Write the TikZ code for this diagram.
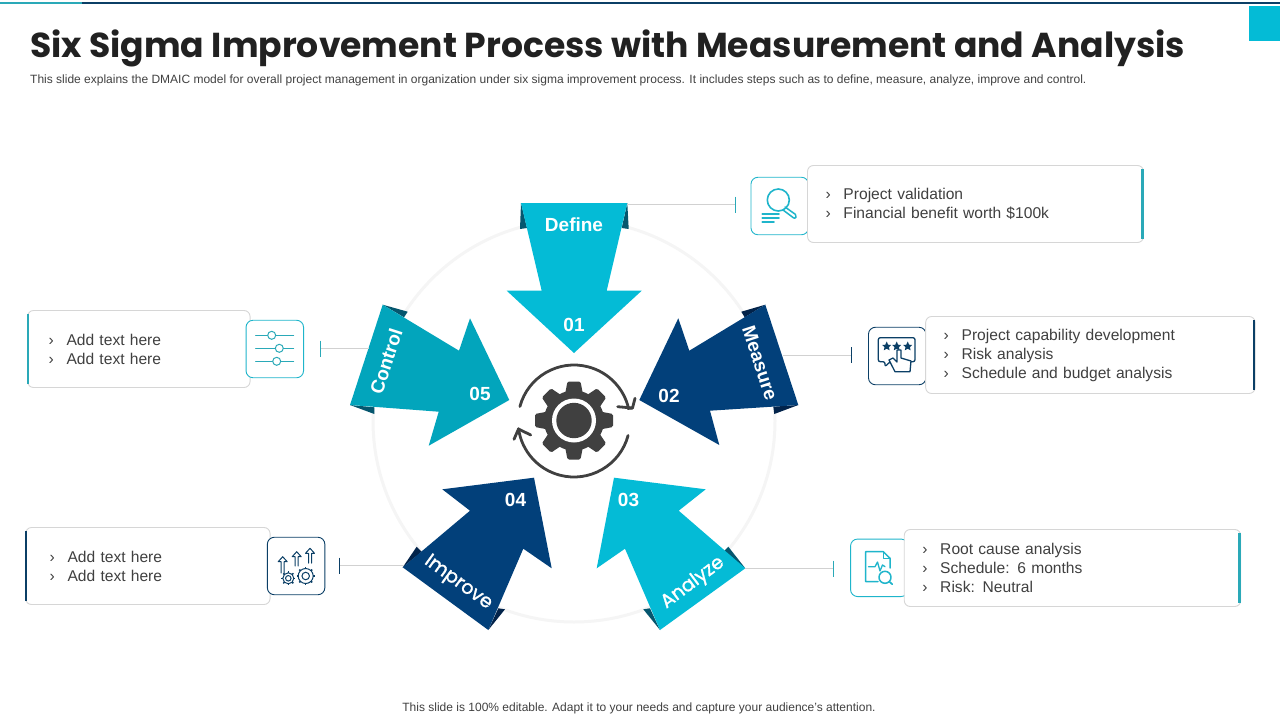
\documentclass[tikz,border=0pt]{standalone}
\usepackage{fontspec}
\setmainfont{Liberation Sans}
\newfontfamily\gothicfont{Poppins}
\newfontfamily\ribbonfont[FakeBold=1.3]{Poppins}
\usetikzlibrary{positioning}
\definecolor{cyanarrow}{HTML}{04BBD6}
\definecolor{tealarrow}{HTML}{02A5BC}
\definecolor{navyarrow}{HTML}{02407A}
\definecolor{foldteal}{HTML}{05566E}
\definecolor{foldnavy}{HTML}{02234A}
\definecolor{tealline}{HTML}{2AA9B8}
\definecolor{navyline}{HTML}{0B3F66}
\definecolor{iconcyan}{HTML}{1FB5CB}
\definecolor{greytext}{HTML}{404040}
\tikzset{
	cardbox/.style={draw=black!16, fill=white, rounded corners=6pt, line width=0.9pt, text=greytext, align=left, inner xsep=18pt, inner ysep=0pt, minimum height=77pt, font=\fontsize{15.6}{19}\selectfont},
	iconbox/.style={draw=#1, fill=white, rounded corners=7pt, line width=0.9pt, minimum width=57.5pt, minimum height=57.5pt, inner sep=0pt},
	leader/.style={draw=black!18, line width=0.8pt},
	tickmark/.style={draw=#1, line width=1pt},
	accent/.style={draw=#1, line width=2.6pt},
	steplabel/.style={text=white, font=\fontsize{19}{19}\selectfont\bfseries, inner sep=0pt},
	ribbonlabel/.style={text=white, font=\fontsize{19}{19}\selectfont\ribbonfont, inner sep=0pt},
	iconline/.style={draw=#1, line width=1pt, line cap=round, line join=round},
}
\newcommand{\bul}[1]{\makebox[18pt][l]{›}#1}
\begin{document}
\begin{tikzpicture}[x=1pt, y=-1pt]
	\useasboundingbox (0,0) rectangle (1280,720);
	% header
	\draw[tealline, line width=2pt] (0,2.5) -- (82,2.5);
	\draw[navyline, line width=2pt] (82,2.5) -- (1280,2.5);
	\fill[cyanarrow] (1249,6) rectangle (1280,41);
	\node (title) [anchor=west, inner sep=0pt, text=black!87, font=\fontsize{34.6}{36}\selectfont\gothicfont\bfseries] at (30,48.5) {Six Sigma Improvement Process with Measurement and Analysis};
	\node (subtitle) [anchor=west, inner sep=0pt, text=greytext, font=\fontsize{12}{12}\selectfont] at (30,80.5) {This slide explains the DMAIC model for overall project management in organization under six sigma improvement process. It includes steps such as to define, measure, analyze, improve and control.};
	\node (footer) [inner sep=0pt, text=greytext, font=\fontsize{12}{12}\selectfont] at (639,708) {This slide is 100\% editable. Adapt it to your needs and capture your audience's attention.};

	% disc
	\draw[draw=black!4, fill=white, line width=3pt] (574,421) circle (201);

	% cards and icon boxes
	\node (icon1) [iconbox=iconcyan] at (779.7,206) {};
	\node (card1) [cardbox, text width=300pt, right of=icon1, node distance=195.8pt, yshift=2pt] {\bul{Project validation}\\ \bul{Financial benefit worth \$100k}};
	\draw[accent=tealline] ([shift={(-1.5,-35)}]card1.east) -- ([shift={(-1.5,35)}]card1.east);

	\node (icon2) [iconbox=navyline] at (897.2,356) {};
	\node (card2) [cardbox, text width=293.5pt, right of=icon2, node distance=193.2pt, yshift=1pt] {\bul{Project capability development}\\ \bul{Risk analysis}\\ \bul{Schedule and budget analysis}};
	\draw[accent=navyline] ([shift={(-1.5,-35)}]card2.east) -- ([shift={(-1.5,35)}]card2.east);

	\node (icon3) [iconbox=iconcyan] at (879.3,567.8) {};
	\node (card3) [cardbox, text width=300.5pt, right of=icon3, node distance=193.2pt, yshift=-0.2pt] {\bul{Root cause analysis}\\ \bul{Schedule: 6 months}\\ \bul{Risk: Neutral}};
	\draw[accent=tealline] ([shift={(-1.5,-35)}]card3.east) -- ([shift={(-1.5,35)}]card3.east);

	\node (card5) [cardbox, inner xsep=21pt, text width=180.5pt] at (138.8,349) {\bul{Add text here}\\ \bul{Add text here}};
	\node (icon5) [iconbox=iconcyan, right of=card5, node distance=136pt] {};
	\draw[accent=tealline] ([shift={(1,-35)}]card5.west) -- ([shift={(1,35)}]card5.west);

	\node (card4) [cardbox, inner xsep=24pt, text width=196.5pt] at (147.8,566) {\bul{Add text here}\\ \bul{Add text here}};
	\node (icon4) [iconbox=navyline, right of=card4, node distance=148.3pt] {};
	\draw[accent=navyline] ([shift={(1,-35)}]card4.west) -- ([shift={(1,35)}]card4.west);

	% folds
	\fill[foldteal] (521,203) -- (520,229) -- (527,228) -- cycle;
	\fill[foldteal] (627.3,203) -- (628.7,229) -- (621.7,228) -- cycle;
	\fill[foldnavy] (765.3,304.7) -- (741.3,311.7) -- (744.7,317.3) -- cycle;
	\fill[foldnavy] (798.3,405) -- (774.3,414) -- (773.3,406.7) -- cycle;
	\fill[foldteal] (745.3,568.3) -- (728.3,546.7) -- (723,552) -- cycle;
	\fill[foldteal] (660,630) -- (643.3,609.3) -- (650,608.3) -- cycle;
	\fill[foldnavy] (402.7,567.3) -- (416.7,546.7) -- (421.7,551.7) -- cycle;
	\fill[foldnavy] (488.3,630) -- (505,609.3) -- (498.3,608.3) -- cycle;
	\fill[foldteal] (382.7,304.7) -- (407.7,311.7) -- (404,317.3) -- cycle;
	\fill[foldteal] (350,405) -- (374.3,414) -- (374.3,407.3) -- cycle;

	% arrows
	\fill[cyanarrow] (521,203) -- (627.3,203) -- (606.7,290.7) -- (641.7,290.7) -- (574,353) -- (506.7,290.7) -- (541.7,290.7) -- cycle;
	\fill[navyarrow] (765.3,304.7) -- (798.3,405) -- (710,410.7) -- (719.3,445) -- (639.3,400) -- (678.3,318.3) -- (689.3,350.7) -- cycle;
	\fill[cyanarrow] (614,477.7) -- (705.7,489.3) -- (678.7,510.7) -- (745.3,568.3) -- (660,630) -- (625,548.7) -- (596.7,568.3) -- cycle;
	\fill[navyarrow] (534,477.7) -- (442.3,489.3) -- (470,510.7) -- (402.7,567.3) -- (488.3,630) -- (523.3,548.7) -- (551.7,568.3) -- cycle;
	\fill[tealarrow] (382.7,304.7) -- (350,405) -- (438.7,411.7) -- (428.7,445.7) -- (509.3,400) -- (470,318.3) -- (459,350.7) -- cycle;

	% arrow labels
	\node (define) [steplabel] at (574,224.5) {Define};
	\node (num1) [steplabel] at (574,324.5) {01};
	\node (measure) [steplabel, rotate=-72] at (760,363) {Measure};
	\node (num2) [steplabel] at (669,395.5) {02};
	\node (analyze) [ribbonlabel, rotate=37] at (693,583) {Analyze};
	\node (num3) [steplabel] at (628.5,499.5) {03};
	\node (improve) [ribbonlabel, rotate=-36] at (458,583) {Improve};
	\node (num4) [steplabel] at (515.5,499.5) {04};
	\node (control) [steplabel, rotate=72] at (386,361) {Control};
	\node (num5) [steplabel] at (480,393.5) {05};

	% connectors
	\coordinate (define-end) at (627.3,204.5);
	\coordinate (tick1) at (735.5,204.5);
	\coordinate (measure-end) at (783,355);
	\coordinate (tick2) at (851.5,355);
	\coordinate (analyze-end) at (745.3,568.5);
	\coordinate (tick3) at (833.5,568.5);
	\coordinate (improve-end) at (404,565.5);
	\coordinate (tick4) at (339.5,565.5);
	\coordinate (control-end) at (369,348.5);
	\coordinate (tick5) at (320.5,348.5);
	\draw[leader] (define-end) -- (tick1);
	\draw[leader] (measure-end) -- (tick2);
	\draw[leader] (analyze-end) -- (tick3);
	\draw[leader] (improve-end) -- (tick4);
	\draw[leader] (control-end) -- (tick5);
	\draw[tickmark=tealline] ([yshift=8pt]tick1) -- ([yshift=-8pt]tick1);
	\draw[tickmark=navyline] ([yshift=8pt]tick2) -- ([yshift=-8pt]tick2);
	\draw[tickmark=tealline] ([yshift=8pt]tick3) -- ([yshift=-8pt]tick3);
	\draw[tickmark=navyline] ([yshift=8pt]tick4) -- ([yshift=-8pt]tick4);
	\draw[tickmark=tealline] ([yshift=8pt]tick5) -- ([yshift=-8pt]tick5);

	% centre gear
	\fill[greytext] (574,420.5) circle (30);
	\foreach \a in {0,45,...,315} {
		\fill[greytext, rounded corners=1.5pt, shift={(574,420.5)}, rotate=\a] (26,-9) -- (39,-6.5) -- (39,6.5) -- (26,9) -- cycle;
	}
	\fill[white] (574,420.5) circle (22);
	\fill[greytext] (574,420.5) circle (17.7);
	\draw[greytext, line width=2.8pt, line cap=round] (195:56) ++(574,421) arc (195:347:56) -- (632.5,408);
	\draw[greytext, line width=2.8pt, line cap=round] (15:56) ++(574,421) arc (15:172:56);
	\draw[greytext, line width=2.8pt, line cap=round, line join=round] (617.7,406.7) -- (632.5,408) -- (635,398.3);
	\draw[greytext, line width=2.8pt, line cap=round, line join=round] (530.7,435) -- (518.5,429) -- (514,439.3);

	% icon 1
	\draw[iconline=iconcyan, line width=1.6pt] (778.3,200) circle (11);
	\draw[iconline=iconcyan, line width=1.5pt, rounded corners=2pt] (785,207) -- (797,215.5) -- (795,219) -- (783,210);
	\draw[iconline=iconcyan, line width=1.7pt] (762.3,214.3) -- (779,214.3);
	\draw[iconline=iconcyan, line width=1.7pt] (762.3,218.3) -- (779,218.3);
	\draw[iconline=iconcyan, line width=1.7pt] (762.3,222.3) -- (774,222.3);

	% icon 2
	\draw[iconline=navyline, line width=1.3pt, rounded corners=2pt] (895,361.7) -- (890,361.7) -- (885,366.7) -- (885,361.7) -- (878.3,361.7) -- (878.3,337.7) -- (915,337.7) -- (915,361.7) -- (910,361.7);
	\foreach \x in {886.7,896.7,907.7} {
		\fill[navyline] (\x,341.5) -- (\x+1.4,344.7) -- (\x+4.5,345) -- (\x+2.2,347.1) -- (\x+2.9,350.3) -- (\x,348.7) -- (\x-2.9,350.3) -- (\x-2.2,347.1) -- (\x-4.5,345) -- (\x-1.4,344.7) -- cycle;
	}
	\draw[iconline=navyline, line width=1.3pt, fill=white] (895,371.7) -- (889,360) -- (893,358) -- (897,362) -- (897,350) -- (901,350) -- (901,358) -- (911,361) -- (910,371.7) -- cycle;

	% icon 3
	\draw[iconline=iconcyan, line width=1.5pt] (878,581.7) -- (865.7,581.7) -- (865.7,551.7) -- (883.3,551.7) -- (890,558.3) -- (890,568);
	\draw[iconline=iconcyan, line width=1.1pt] (883.3,551.7) -- (883.3,558.3) -- (890,558.3);
	\draw[iconline=iconcyan, line width=1.3pt] (868.5,566.7) -- (875,566.7) -- (877.5,562) -- (880,571) -- (882.5,565) -- (885,566.7);
	\draw[iconline=iconcyan, line width=1.5pt] (885,577.3) circle (6);
	\draw[iconline=iconcyan, line width=1.7pt] (889.3,581.6) -- (892.3,584.3);

	% icon 5
	\foreach \y/\k in {335.3/271.7, 348.3/279.3, 361.3/276.7} {
		\draw[iconline=tealline] (255.7,\y) -- (293.7,\y);
		\draw[iconline=tealline, fill=white] (\k,\y) circle (4);
	}

	% icon 4
	\foreach \x/\t/\b in {282.7/556.7/573, 296.7/551.7/566, 310/548.3/563} {
		\draw[iconline=navyline, line width=1pt] (\x-1.5,\b) -- (\x-1.5,\t+5) -- (\x-4.5,\t+5) -- (\x,\t) -- (\x+4.5,\t+5) -- (\x+1.5,\t+5) -- (\x+1.5,\b);
	}
	\foreach \x/\y/\r in {288.3/578.3/5.5, 305.7/576/7.5} {
		\draw[navyline, line width=1pt] (\x,\y) circle (\r);
		\draw[navyline, line width=1pt] (\x,\y) circle (\r*0.5);
		\foreach \a in {0,45,...,315} {
			\draw[navyline, line width=1.5pt] (\x,\y) ++(\a:\r) -- ++(\a:1.6);
		}
	}
\end{tikzpicture}
\end{document}
